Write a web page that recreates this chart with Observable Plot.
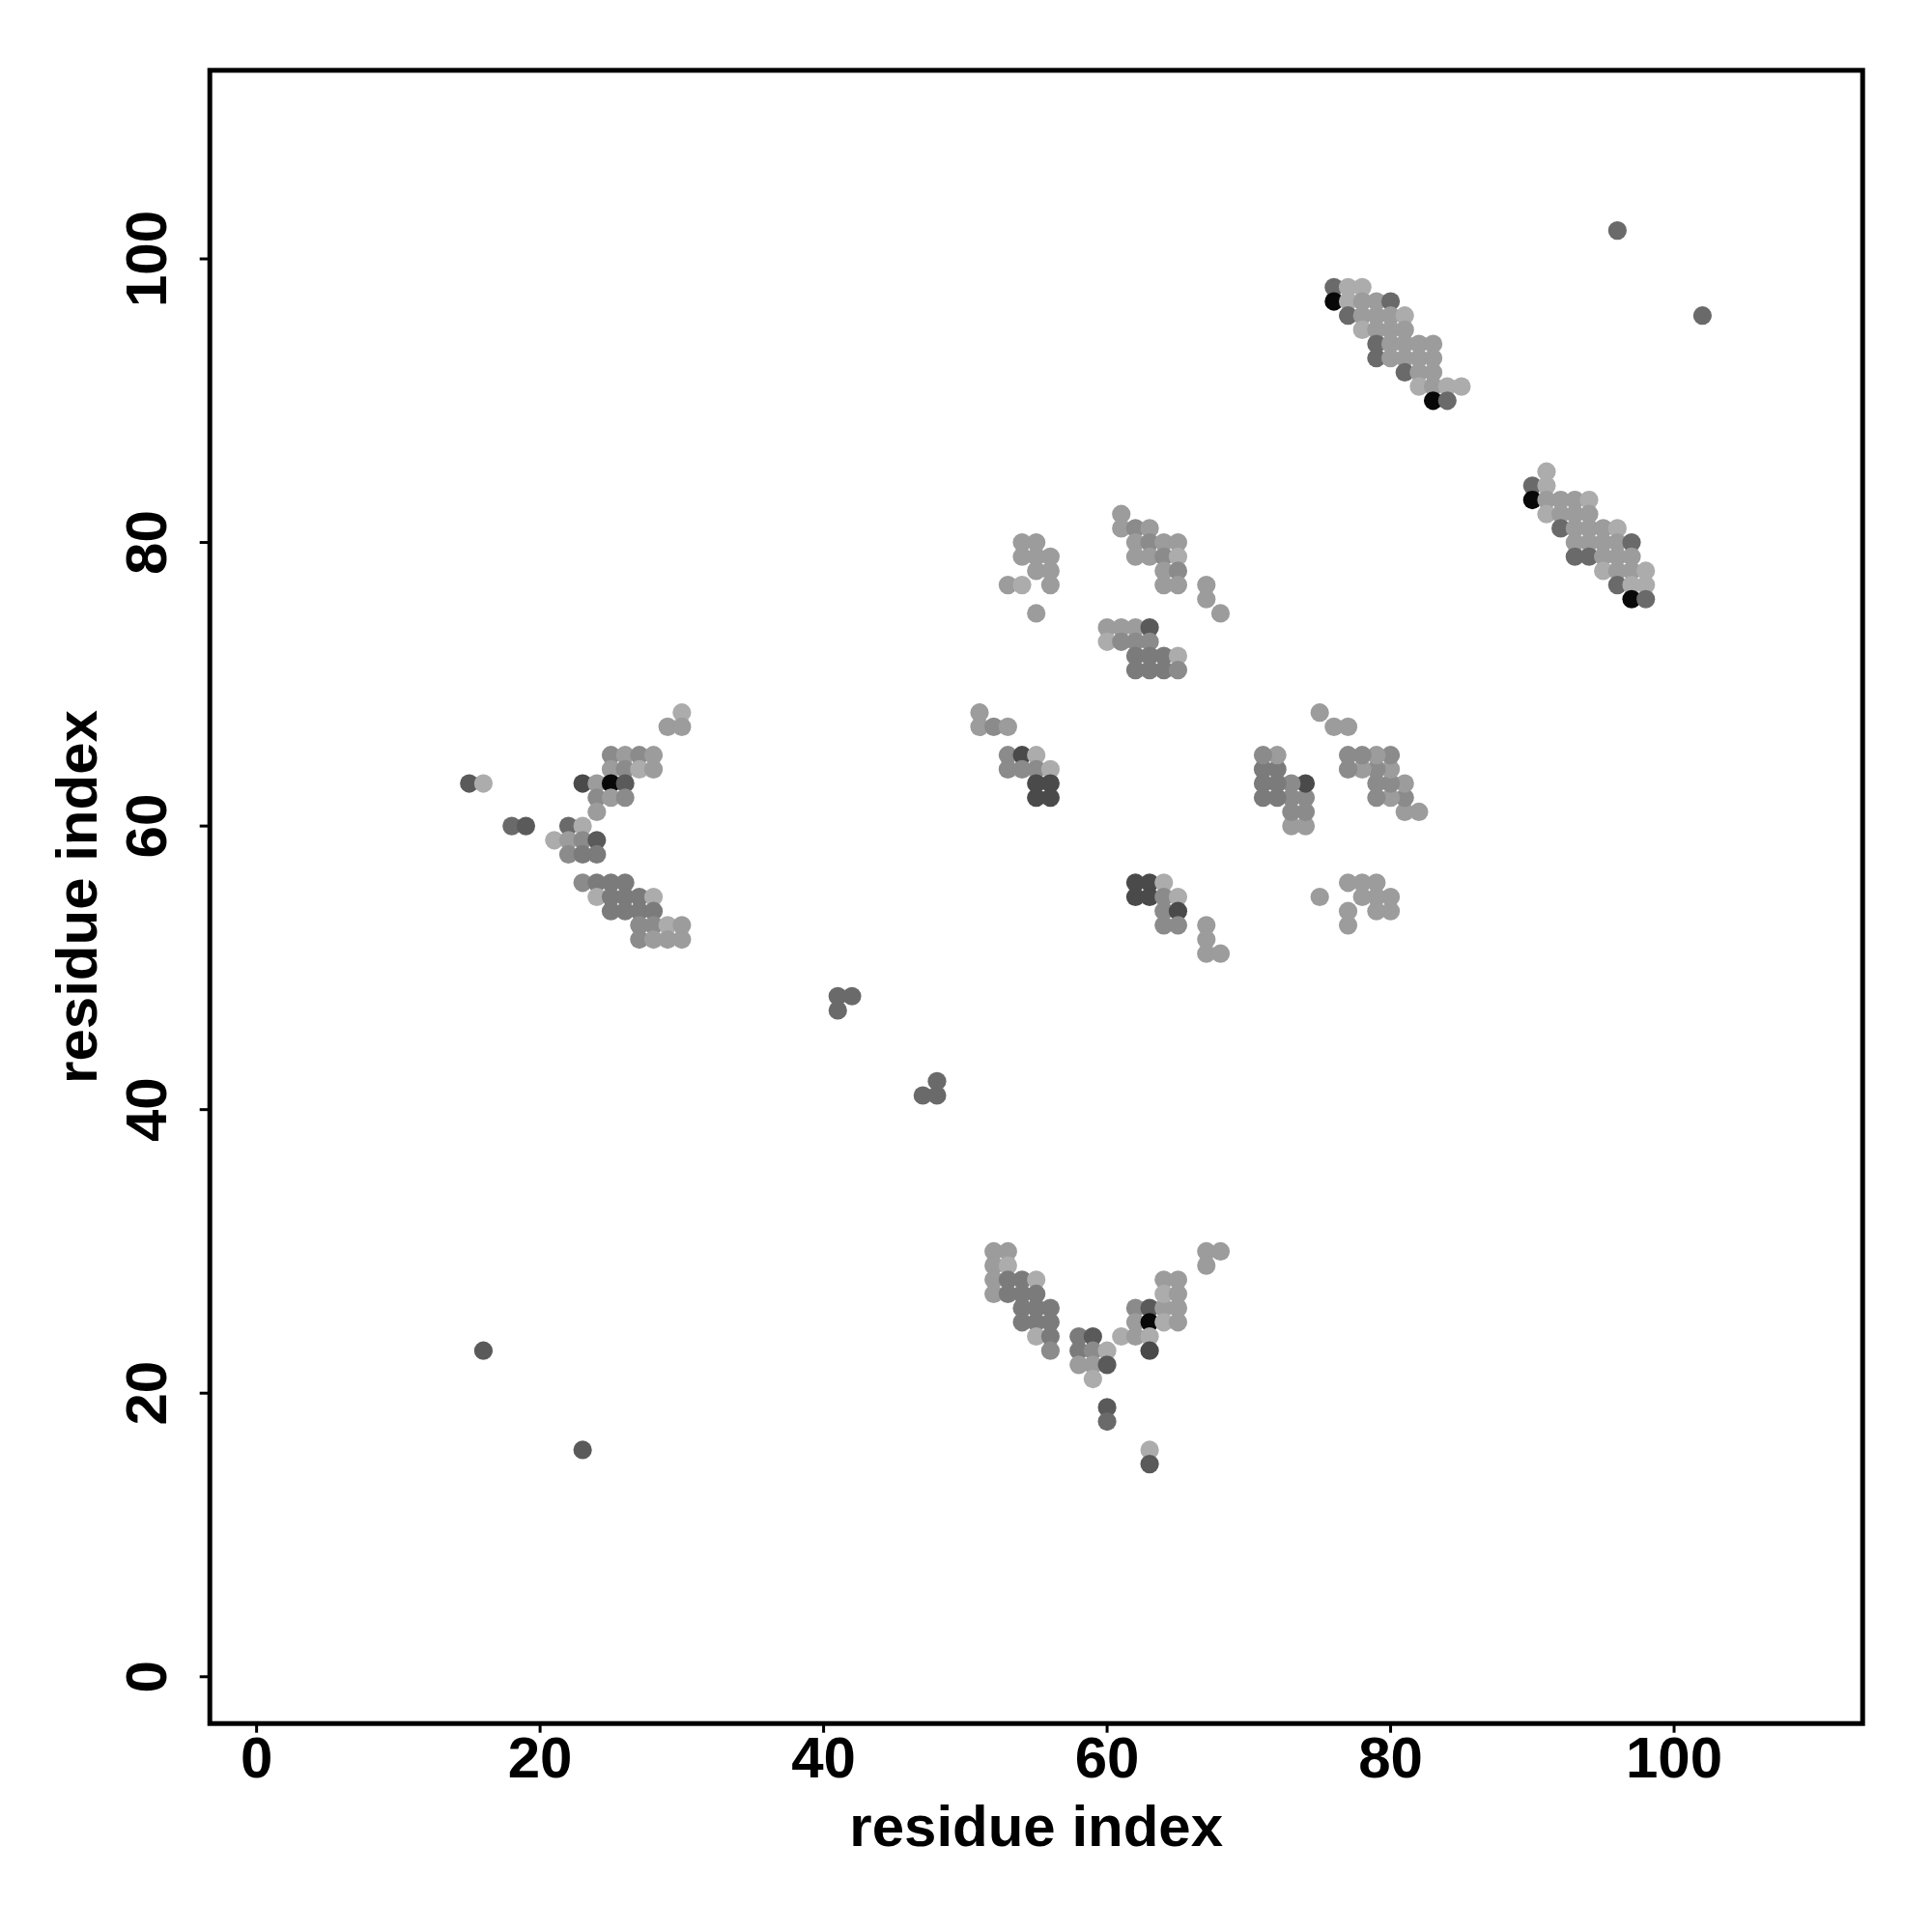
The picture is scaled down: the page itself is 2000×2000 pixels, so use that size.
<!DOCTYPE html>
<html>
<head>
<meta charset="utf-8">
<script src="https://cdn.jsdelivr.net/npm/d3@7"></script>
<script src="https://cdn.jsdelivr.net/npm/@observablehq/plot@0.6"></script>
<style>
  html, body { margin: 0; padding: 0; background: #ffffff; }
  #chart { width: 2000px; height: 2000px; }
</style>
</head>
<body>
<div id="chart"></div>
<script>
// Contacts as [residue i (x), residue j (y), shade level 0 (light) .. 10 (black)]
const clusterTopRightUpper = [
  [76,98,4],[77,98,0],[78,98,0],
  [76,97,10],[77,97,0],[78,97,1],[79,97,1],[80,97,4],
  [77,96,4],[78,96,1],[79,96,1],[80,96,1],[81,96,0],
  [78,95,0],[79,95,1],[80,95,1],[81,95,1],
  [79,94,4],[80,94,1],[81,94,1],[82,94,1],[83,94,1],
  [79,93,4],[80,93,1],[81,93,1],[82,93,1],[83,93,1],
  [81,92,4],[82,92,1],[83,92,1],
  [82,91,0],[83,91,1],[84,91,0],[85,91,0],
  [83,90,10],[84,90,4],
  [96,102,4]
];
const clusterTopRightLower = [
  [91,85,0],
  [90,84,4],[91,84,0],
  [90,83,10],[91,83,1],[92,83,1],[93,83,1],[94,83,0],
  [91,82,0],[92,82,1],[93,82,1],[94,82,1],
  [92,81,4],[93,81,1],[94,81,1],[95,81,1],[96,81,0],
  [93,80,1],[94,80,1],[95,80,1],[96,80,1],[97,80,4],
  [93,79,4],[94,79,4],[95,79,1],[96,79,1],[97,79,1],
  [95,78,0],[96,78,1],[97,78,1],[98,78,0],
  [96,77,4],[97,77,0],[98,77,0],
  [97,76,10],[98,76,4],
  [102,96,4]
];
const clusterMidA = [
  [54,80,1],[55,80,1],
  [54,79,1],[55,79,1],[56,79,1],
  [55,78,1],[56,78,1],
  [53,77,1],[54,77,0],[56,77,1],
  [55,75,1]
];
const clusterMidAMirror = [
  [80,54,1],[80,55,1],
  [79,54,1],[79,55,1],[79,56,1],
  [78,55,1],[78,56,1],
  [77,53,1],[77,54,1],[77,56,1],
  [75,55,1]
];
const clusterMidB = [
  [61,82,1],
  [61,81,1],[62,81,2],[63,81,1],
  [62,80,1],[63,80,2],[64,80,1],[65,80,1],
  [62,79,1],[63,79,1],[64,79,2],[65,79,0],
  [64,78,1],[65,78,2],
  [64,77,1],[65,77,1],
  [67,77,1],[67,76,1],[68,75,1],
  [60,74,1],[61,74,1],[62,74,1],[63,74,5],
  [60,73,0],[61,73,2],[62,73,2],[63,73,2],
  [62,72,3],[63,72,3],[64,72,3],[65,72,0],
  [62,71,3],[63,71,3],[64,71,3],[65,71,2]
];
const clusterMidBMirror = [
  [82,61,1],
  [81,61,1],[81,62,2],[81,63,1],
  [80,62,1],[80,63,2],[80,64,1],[80,65,2],
  [79,62,2],[79,63,2],[79,64,2],[79,65,1],
  [78,64,1],[78,65,2],
  [77,64,2],[77,65,2],
  [77,67,1],[76,67,1],[75,68,1],
  [74,60,1],[74,61,2],[74,62,2],[74,63,6],
  [73,60,1],[73,61,2],[73,62,2],[73,63,2],
  [72,62,3],[72,63,3],[72,64,3],[72,65,1],
  [71,62,3],[71,63,3],[71,64,3],[71,65,2]
];
const clusterMidC = [
  [51,68,1],
  [51,67,1],[52,67,2],[53,67,1],
  [53,65,2],[54,65,6],[55,65,0],
  [53,64,2],[54,64,2],[55,64,2],[56,64,0],
  [55,63,6],[56,63,6],
  [55,62,6],[56,62,6]
];
const clusterMidCMirror = [
  [62,56,6],[63,56,6],[64,56,0],
  [62,55,6],[63,55,6],[64,55,2],[65,55,0],
  [64,54,2],[65,54,6],
  [64,53,2],[65,53,2],
  [67,53,1],[67,52,1],[67,51,1],[68,51,1]
];
const clusterLeft = [
  [30,68,0],
  [29,67,1],[30,67,1],
  [25,65,2],[26,65,1],[27,65,2],[28,65,1],
  [25,64,1],[26,64,2],[27,64,0],[28,64,1],
  [15,63,5],[16,63,0],[23,63,6],[24,63,1],[25,63,10],[26,63,5],
  [24,62,2],[25,62,1],[26,62,2],
  [24,61,1],
  [18,60,4],[19,60,5],[22,60,4],[23,60,0],
  [21,59,0],[22,59,1],[23,59,2],[24,59,5],
  [22,58,2],[23,58,3],[24,58,3],
  [23,56,2],[24,56,3],[25,56,3],[26,56,3],
  [24,55,0],[25,55,3],[26,55,3],[27,55,3],[28,55,0],
  [25,54,3],[26,54,3],[27,54,3],[28,54,3],
  [27,53,2],[28,53,2],[29,53,0],[30,53,1],
  [27,52,2],[28,52,1],[29,52,1],[30,52,1]
];
const clusterBottom = [
  [52,30,1],[53,30,1],
  [52,29,1],[53,29,0],
  [52,28,1],[53,28,3],[54,28,3],[55,28,0],
  [52,27,1],[53,27,3],[54,27,3],[55,27,3],
  [54,26,3],[55,26,3],[56,26,3],
  [54,25,3],[55,25,3],[56,25,3],
  [55,24,0],[56,24,3],
  [56,23,2],
  [58,24,3],[59,24,5],
  [58,23,3],[59,23,2],[60,23,0],
  [58,22,1],[59,22,1],[60,22,5],
  [59,21,0],
  [60,19,5],[60,18,4],
  [61,24,0],
  [62,26,2],[63,26,5],[64,26,1],[65,26,1],
  [62,25,1],[63,25,10],[64,25,0],[65,25,1],
  [62,24,1],[63,24,0],
  [63,23,6],
  [64,28,1],[65,28,1],
  [64,27,0],[65,27,1],
  [63,16,0],[63,15,5],
  [67,30,1],[68,30,1],[67,29,1]
];
const clusterSmall = [
  [41,48,4],[42,48,4],[41,47,4],
  [48,42,4],[47,41,4],[48,41,4],
  [16,23,5],[23,16,5]
];

const xTicks = [0, 20, 40, 60, 80, 100];
const yTicks = [0, 20, 40, 60, 80, 100];
const axisTitleX = "residue index";
const axisTitleY = "residue index";

const contacts = [
  ...clusterTopRightUpper, ...clusterTopRightLower,
  ...clusterMidA, ...clusterMidAMirror,
  ...clusterMidB, ...clusterMidBMirror,
  ...clusterMidC, ...clusterMidCMirror,
  ...clusterLeft, ...clusterBottom, ...clusterSmall
].map(([i, j, s]) => ({i, j, s}));

const font = "'Liberation Sans', Arial, Helvetica, sans-serif";

const chart = Plot.plot({
  width: 2000,
  height: 2000,
  marginLeft: 216.7,
  marginRight: 72.3,
  marginTop: 72.3,
  marginBottom: 216.3,
  style: {background: "#ffffff", fontFamily: font, color: "#000000"},
  x: {domain: [-3.3, 113.3]},
  y: {domain: [-3.3, 113.3]},
  color: {type: "linear", domain: [0, 10], range: ["#acacac", "#080808"]},
  marks: [
    Plot.dot(contacts, {x: "i", y: "j", fill: "s", r: 9.6, stroke: null}),
    Plot.frame({stroke: "#000000", strokeWidth: 5}),
    Plot.axisX({ticks: xTicks, tickSize: 10, tickPadding: 3, strokeWidth: 3,
      fontSize: 60, fontWeight: "bold", fontFamily: font, label: null}),
    Plot.axisY({ticks: yTicks, tickSize: 10, strokeWidth: 3, tickFormat: () => "", label: null}),
    Plot.text(yTicks, {y: (d) => d, text: (d) => String(d), frameAnchor: "left", dx: -45.7,
      rotate: -90, textAnchor: "middle", lineAnchor: "bottom",
      fontSize: 60, fontWeight: "bold", fontFamily: font, fill: "#000000"}),
    Plot.text([axisTitleX], {text: (d) => d, frameAnchor: "bottom", dy: 126.3,
      textAnchor: "middle", lineAnchor: "bottom",
      fontSize: 60, fontWeight: "bold", fontFamily: font, fill: "#000000"}),
    Plot.text([axisTitleY], {text: (d) => d, frameAnchor: "left", dx: -117.4,
      rotate: -90, textAnchor: "middle", lineAnchor: "bottom",
      fontSize: 60, fontWeight: "bold", fontFamily: font, fill: "#000000"})
  ]
});
document.getElementById("chart").appendChild(chart);
</script>
</body>
</html>
